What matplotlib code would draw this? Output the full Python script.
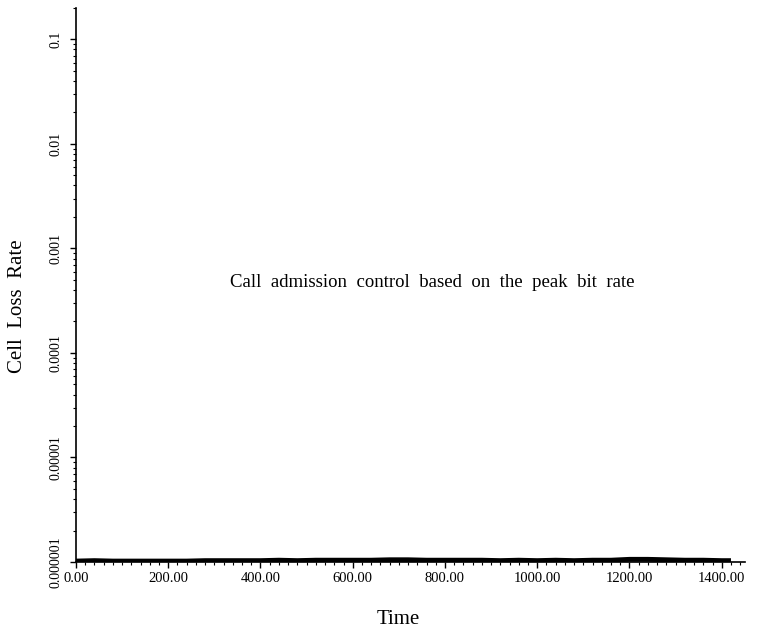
import matplotlib.pyplot as plt
import matplotlib.ticker as ticker

# cell loss rate over time (stays at the floor of the scale)
time = [0, 40, 80, 120, 160, 200, 240, 280, 320, 360, 400, 440, 480, 520,
        560, 600, 640, 680, 720, 760, 800, 840, 880, 920, 960, 1000, 1040,
        1080, 1120, 1160, 1200, 1240, 1280, 1320, 1360, 1400, 1420]
loss = [1.02e-6, 1.03e-6, 1.02e-6, 1.02e-6, 1.02e-6, 1.02e-6, 1.02e-6,
        1.03e-6, 1.03e-6, 1.03e-6, 1.03e-6, 1.04e-6, 1.03e-6, 1.04e-6,
        1.04e-6, 1.04e-6, 1.04e-6, 1.05e-6, 1.05e-6, 1.04e-6, 1.04e-6,
        1.04e-6, 1.04e-6, 1.03e-6, 1.04e-6, 1.03e-6, 1.04e-6, 1.03e-6,
        1.04e-6, 1.04e-6, 1.06e-6, 1.06e-6, 1.05e-6, 1.04e-6, 1.04e-6,
        1.03e-6, 1.03e-6]

y_ticks = [1e-1, 1e-2, 1e-3, 1e-4, 1e-5, 1e-6]
y_labels = ["0.1", "0.01", "0.001", "0.0001", "0.00001", "0.000001"]
x_ticks = [0, 200, 400, 600, 800, 1000, 1200, 1400]
x_labels = ["0.00", "200.00", "400.00", "600.00", "800.00", "1000.00", "1200.00", "1400.00"]

plt.rcParams['font.family'] = ['Liberation Serif', 'DejaVu Serif']

fig = plt.figure(figsize=(7.6, 6.34), dpi=100)
ax = fig.add_axes([0.1, 0.1136, 0.88, 0.874])

ax.plot(time, loss, color="black", lw=3.5, solid_capstyle="butt")

ax.set_yscale("log")
ax.set_ylim(1e-6, 0.2)
ax.set_xlim(0, 1450)

ax.set_yticks(y_ticks)
ax.set_yticklabels(y_labels, rotation=90, va="center", fontsize=10)
ax.yaxis.set_minor_locator(ticker.LogLocator(base=10, subs=(2, 3, 4, 5, 6, 7, 8, 9)))
ax.yaxis.set_minor_formatter(ticker.NullFormatter())

ax.set_xticks(x_ticks)
ax.set_xticklabels(x_labels, fontsize=10.5)
ax.xaxis.set_minor_locator(ticker.MultipleLocator(20))

ax.tick_params(axis="both", which="major", length=4, width=1, color="black")
ax.tick_params(axis="y", which="major", pad=6)
ax.tick_params(axis="x", which="major", pad=3)
ax.tick_params(axis="both", which="minor", length=2.5, width=0.8, color="black")

for side in ["top", "right"]:
    ax.spines[side].set_visible(False)
for side in ["left", "bottom"]:
    ax.spines[side].set_linewidth(1.2)

fig.text(18 / 760, 1 - 306 / 634, "Cell  Loss  Rate", rotation=90,
         ha="center", va="center", fontsize=15)
fig.text(398 / 760, 1 - 620 / 634, "Time", ha="center", va="center", fontsize=15)

ax.text(0.231, 0.505, "Call  admission  control  based  on  the  peak  bit  rate",
        transform=ax.transAxes, fontsize=13.5, va="center", ha="left")

plt.savefig("out.png", dpi=100)
